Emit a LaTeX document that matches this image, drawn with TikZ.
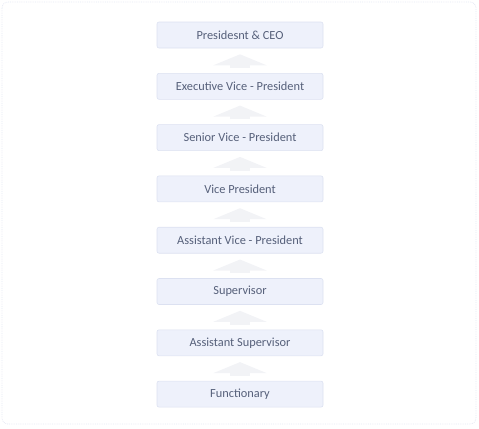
\documentclass[tikz,border=0pt]{standalone}
\usepackage{fontspec}
\setmainfont{Carlito}
\usetikzlibrary{positioning,arrows.meta}

\definecolor{boxfill}{HTML}{EEF1FB}
\definecolor{boxline}{HTML}{DCE1F1}
\definecolor{boxtext}{HTML}{56607A}
\definecolor{arrowfill}{HTML}{F2F3F6}
\definecolor{frameline}{HTML}{E4E7F3}

\begin{document}
\begin{tikzpicture}[
                    x=1bp,
                    y=-1bp,
                    node distance=24.7bp,
                    rank/.style={
                        rectangle,
                        rounded corners=2bp,
                        fill=boxfill,
                        draw=boxline,
                        line width=0.6bp,
                        text=boxtext,
                        minimum width=166bp,
                        minimum height=26bp,
                        inner sep=0pt,
                        font=\fontsize{12.4}{14}\selectfont
                    },
                    upto/.style={
                        -{Triangle[width=53bp,length=11bp]},
                        line width=20bp,
                        draw=arrowfill,
                        shorten <=5bp,
                        shorten >=6bp
                    }
                ]
                \useasboundingbox (0,0) rectangle (479,428);
                \draw[frameline, densely dotted, line width=0.8bp, rounded corners=6bp]
                    (2,2) rectangle (476,424);

                \node[rank] (ceo) at (240,35) {Presidesnt \& CEO};
                \node[rank, below=of ceo] (evp) {Executive Vice - President};
                \node[rank, below=of evp] (svp) {Senior Vice - President};
                \node[rank, below=of svp] (vp) {Vice President};
                \node[rank, below=of vp] (avp) {Assistant Vice - President};
                \node[rank, below=of avp] (sup) {Supervisor};
                \node[rank, below=of sup] (asup) {Assistant Supervisor};
                \node[rank, below=of asup] (func) {Functionary};

                \foreach \lo/\hi in {evp/ceo, svp/evp, vp/svp, avp/vp,
                                     sup/avp, asup/sup, func/asup}
                    \draw[upto] (\lo.north) -- (\hi.south);
            \end{tikzpicture}
\end{document}
